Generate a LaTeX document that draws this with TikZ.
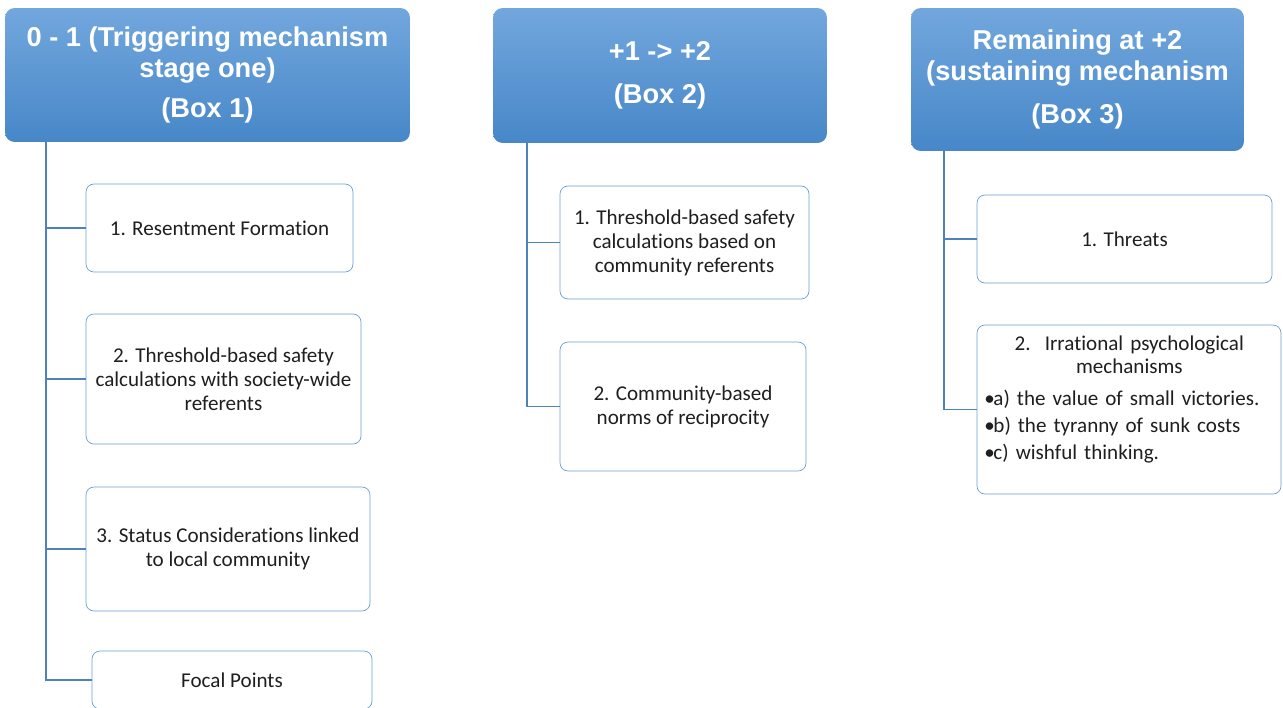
\documentclass[tikz,border=0pt]{standalone}
\usepackage{fontspec}
\setmainfont{Carlito}[Ligatures=CommonOff]
\newfontfamily\headfont{Liberation Sans}
\usepackage{xcolor}
\usepackage{tikz}

\definecolor{headtop}{HTML}{72A7DD}
\definecolor{headbot}{HTML}{4787C8}
\definecolor{boxline}{HTML}{6A9FD6}
\definecolor{linkline}{HTML}{4F81BD}

\begin{document}
\begin{tikzpicture}[
  x=0.02cm, y=-0.02cm,
  head/.style={
    rounded corners=5.5pt,
    top color=headtop,
    bottom color=headbot,
    inner sep=0pt,
    align=center,
    text=white,
    font=\headfont\bfseries\fontsize{15.5}{17.6}\selectfont
  },
  item/.style={
    draw=boxline,
    fill=white,
    rounded corners=4.5pt,
    inner sep=0pt,
    align=center,
    text=black!88,
    font=\fontsize{12}{13.6}\selectfont
  },
  link/.style={draw=linkline, line width=0.8pt}
]
  \useasboundingbox (0,0) rectangle (1283,707);
  \clip (0,0) rectangle (1283,707);

  % column heads
  \node[head, minimum width=8.1cm, minimum height=2.68cm] (h1) at (207.5,75)
    {0 - 1 (Triggering mechanism\\stage one)\\[5pt](Box 1)};
  \node[head, minimum width=6.68cm, minimum height=2.7cm] (h2) at (660,75.5)
    {+1 -> +2\\[7pt](Box 2)};
  \node[head, minimum width=6.66cm, minimum height=2.86cm] (h3) at (1077.5,79.5)
    {Remaining at +2\\(sustaining mechanism\\[7pt](Box 3)};

  % first column
  \node[item, minimum width=5.34cm, minimum height=1.76cm] (c1a) at (219.5,228)
    {1. Resentment Formation};
  \node[item, minimum width=5.5cm, minimum height=2.6cm] (c1b) at (223.5,379)
    {2. Threshold-based safety\\calculations with society-wide\\referents};
  \node[item, minimum width=5.68cm, minimum height=2.48cm] (c1c) at (228,549)
    {3. Status Considerations linked\\to local community};
  \node[item, minimum width=5.6cm, minimum height=1.16cm] (c1d) at (232,680)
    {Focal Points};

  % second column
  \node[item, minimum width=4.98cm, minimum height=2.26cm] (c2a) at (684.5,242.5)
    {1. Threshold-based safety\\calculations based on\\community referents};
  \node[item, minimum width=4.92cm, minimum height=2.58cm] (c2b) at (683,406.5)
    {2. Community-based\\norms of reciprocity};

  % third column
  \node[item, minimum width=5.9cm, minimum height=1.76cm] (c3a) at (1124.5,239)
    {1. Threats};
  \node[item, minimum width=6.08cm, minimum height=3.38cm] (c3b) at (1129,409.5) {};
  \node[anchor=north west, inner sep=0pt, text width=5.8cm, align=left,
    text=black!88, font=\fontsize{12}{13.6}\selectfont] (c3btext) at (984,335)
    {\makebox[5.8cm]{2.\ \ Irrational psychological}\\
     \makebox[5.8cm]{mechanisms}\\[4.5pt]
     \textbullet\hspace{-0.8pt}a) the value of small victories.\\[1.7pt]
     \textbullet\hspace{-0.8pt}b) the tyranny of sunk costs\\[1.7pt]
     \textbullet\hspace{-0.8pt}c) wishful thinking.};

  % trunks
  \coordinate (t1) at (46,0);
  \coordinate (t2) at (527,0);
  \coordinate (t3) at (944,0);

  \draw[link] (h1.south -| t1) |- (c1d.west);
  \draw[link] (c1a.west -| t1) -- (c1a.west);
  \draw[link] (c1b.west -| t1) -- (c1b.west);
  \draw[link] (c1c.west -| t1) -- (c1c.west);

  \draw[link] (h2.south -| t2) |- (c2b.west);
  \draw[link] (c2a.west -| t2) -- (c2a.west);

  \draw[link] (h3.south -| t3) |- (c3b.west);
  \draw[link] (c3a.west -| t3) -- (c3a.west);
\end{tikzpicture}
\end{document}
